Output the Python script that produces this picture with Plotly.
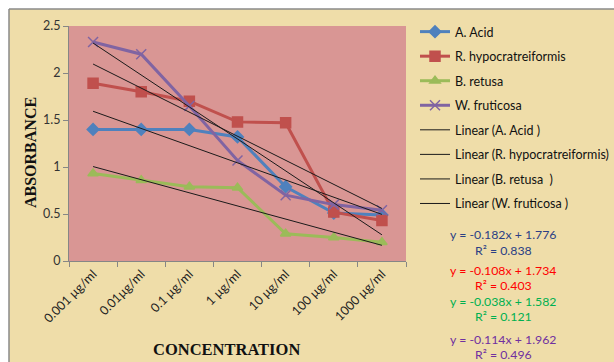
import numpy as np
import plotly.graph_objects as go

categories = ["0.001 µg/ml", "0.01µg/ml", "0.1 µg/ml", "1 µg/ml", "10 µg/ml", "100 µg/ml", "1000 µg/ml"]
a_acid = [1.40, 1.40, 1.40, 1.32, 0.79, 0.51, 0.49]
r_hypo = [1.89, 1.80, 1.70, 1.48, 1.47, 0.52, 0.43]
b_retusa = [0.93, 0.86, 0.79, 0.78, 0.29, 0.25, 0.20]
w_fruticosa = [2.33, 2.20, 1.65, 1.07, 0.70, 0.60, 0.54]
y_ticks = [0, 0.5, 1, 1.5, 2, 2.5]
y_ticktext = ["0", "0.5", "1", "1.5", "2", "2.5"]
equations = [
    ("y = -0.182x + 1.776", "R² = 0.838", "#2B3F85"),
    ("y = -0.108x + 1.734", "R² = 0.403", "#FF0000"),
    ("y = -0.038x + 1.582", "R² = 0.121", "#00B050"),
    ("y = -0.114x + 1.962", "R² = 0.496", "#7030A0"),
]

W, H = 614, 362
L, R, T, B = 69, 406, 26, 261


def px(x):
    return x / W


def py(y):
    return 1 - y / H


FONT = "Lato"
series = [
    ("A. Acid", a_acid, "#4F81BD", "diamond", 9),
    ("R. hypocratreiformis", r_hypo, "#C0504D", "square", 10),
    ("B. retusa", b_retusa, "#9BBB59", "triangle-up", 9),
    ("W. fruticosa", w_fruticosa, "#8064A2", "x-thin", 10),
]
trend_names = ["Linear (A. Acid )", "Linear (R. hypocratreiformis)", "Linear (B. retusa  )", "Linear (W. fruticosa )"]

fig = go.Figure()
for i, (name, vals, col, sym, sz) in enumerate(series):
    fig.add_trace(go.Scatter(
        x=categories, y=vals, name=name, mode="lines+markers",
        line=dict(color=col, width=3),
        marker=dict(symbol=sym, size=sz, color=col, line=dict(color=col, width=1.5)),
        legendgroup=f"g{i}",
    ))

xs = np.arange(1, len(categories) + 1)
for i, (name, vals, col, sym, sz) in enumerate(series):
    m, c = np.polyfit(xs, vals, 1)
    fig.add_trace(go.Scatter(
        x=categories, y=m * xs + c, name=trend_names[i], mode="lines",
        line=dict(color="#1a1a1a", width=1),
        legendgroup=f"t{i}",
    ))

anns = []
anns.append(dict(x=px(30), y=py(153), xref="paper", yref="paper", text="<b>ABSORBANCE</b>",
                 xanchor="center", yanchor="middle",
                 textangle=-90, showarrow=False, font=dict(family="Liberation Serif", size=16, color="#111")))
anns.append(dict(x=px(226), y=py(349), xref="paper", yref="paper", text="<b>CONCENTRATION</b>",
                 xanchor="center", yanchor="middle",
                 showarrow=False, font=dict(family="Liberation Serif", size=16.5, color="#111")))
eq_y = [(234, 250), (270, 285), (301, 316), (339, 354)]
for (eq, r2, col), (y1, y2) in zip(equations, eq_y):
    anns.append(dict(x=px(503), y=py(y1), xref="paper", yref="paper", text=eq, showarrow=False,
                     xanchor="center", yanchor="middle",
                     font=dict(family=FONT, size=12.3, color=col)))
    anns.append(dict(x=px(503), y=py(y2), xref="paper", yref="paper", text=r2, showarrow=False,
                     xanchor="center", yanchor="middle",
                     font=dict(family=FONT, size=12.3, color=col)))

shapes = [
    dict(type="rect", xref="paper", yref="paper", x0=0, x1=1, y0=py(9), y1=1,
         fillcolor="white", line=dict(width=0), layer="below"),
    dict(type="rect", xref="paper", yref="paper", x0=0, x1=px(9), y0=0, y1=1,
         fillcolor="white", line=dict(width=0), layer="below"),
    dict(type="line", xref="paper", yref="paper", x0=px(9), x1=1, y0=py(9), y1=py(9),
         line=dict(color="#8a8a8a", width=1.5)),
    dict(type="line", xref="paper", yref="paper", x0=px(9), x1=px(9), y0=py(9), y1=0,
         line=dict(color="#8a8a8a", width=1.5)),
]

fig.update_layout(
    width=W, height=H,
    margin=dict(l=0, r=0, t=0, b=0, autoexpand=False),
    paper_bgcolor="#EFDDA9",
    plot_bgcolor="#D99694",
    font=dict(family=FONT, size=12, color="#222"),
    showlegend=True,
    legend=dict(x=px(415), xanchor="left", y=py(17), yanchor="top",
                bgcolor="rgba(0,0,0,0)", font=dict(family=FONT, size=12.5, color="#111"),
                tracegroupgap=5.3, itemwidth=30),
    annotations=anns,
    shapes=shapes,
    xaxis=dict(domain=[px(L), px(R)], type="category", showgrid=False, showline=True,
               linecolor="#868686", linewidth=1, automargin=False,
               ticks="outside", tickson="boundaries", ticklen=5, tickcolor="#868686",
               tickangle=-45, tickfont=dict(family=FONT, size=12.5, color="#222"),
               range=[-0.5, len(categories) - 0.5]),
    yaxis=dict(domain=[py(B), py(T)], range=[0, 2.5], tickvals=y_ticks, ticktext=y_ticktext,
               showgrid=False, zeroline=False, automargin=False,
               showline=True, linecolor="#868686", linewidth=1, ticks="outside", ticklen=5,
               tickcolor="#868686", tickfont=dict(family=FONT, size=12.5, color="#333")),
)

fig.write_html(
    "out.html",
    config={"displayModeBar": False},
    post_script="document.body.style.margin='0';document.body.style.overflow='hidden';",
)
